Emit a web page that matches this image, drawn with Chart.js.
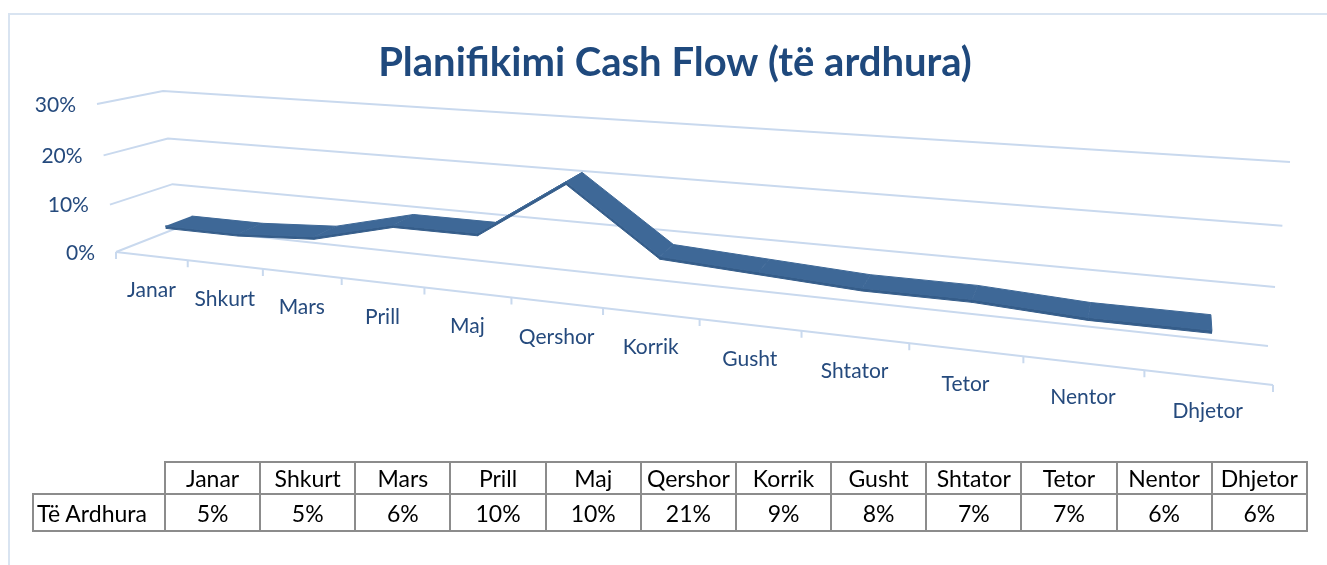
<!DOCTYPE html>
<html lang="sq">
<head>
<meta charset="utf-8">
<title>Planifikimi Cash Flow</title>
<script src="https://cdn.jsdelivr.net/npm/chart.js@4.4.1/dist/chart.umd.min.js"></script>
<style>
  body { margin: 0; background: #fff; overflow: hidden; }
  #wrap { position: relative; width: 1327px; height: 565px; }
  #frame { position: absolute; left: 8px; top: 13px; width: 1400px; height: 600px; border: 2px solid #d9e4f1; }
  #chart { position: absolute; left: 0; top: 0; }
  #dataTable {
    position: absolute; left: 32px; top: 461px; width: 1276px;
    border-collapse: collapse; table-layout: fixed;
    font-family: Lato, sans-serif; font-size: 23px; color: #000;
  }
  #dataTable td { border: 2px solid #8c8c8c; text-align: center; padding: 0; white-space: nowrap; }
  #dataTable tr.head td { height: 30px; }
  #dataTable tr.vals td { height: 35px; }
  #dataTable td.corner { border-top: none; border-left: none; }
  #dataTable td.name { text-align: left; padding-left: 3px; }
</style>
</head>
<body>
<div id="wrap">
  <div id="frame"></div>
  <canvas id="chart" width="1327" height="565"></canvas>
  <table id="dataTable"></table>
</div>
<script>
// te dhenat
const title = "Planifikimi Cash Flow (të ardhura)";
const seriesName = "Të Ardhura";
const months = ["Janar", "Shkurt", "Mars", "Prill", "Maj", "Qershor", "Korrik", "Gusht", "Shtator", "Tetor", "Nentor", "Dhjetor"];
const revenue = [5, 5, 6, 10, 10, 21, 9, 8, 7, 7, 6, 6]; // %
const yTicks = [0, 10, 20, 30];
const yTickLabels = ["0%", "10%", "20%", "30%"];

const titleColor = "#1f497d";
const axisColor = "#254a7d";
const gridColor = "#c9d9ee";
const lineColor = "#3e6897";
const lineSide = "#355d8a";

// pamja 3D: kendet e kutise ne ekran (para = d 0, prapa = d 1)
const box = {
    frontBottom: [[116, 252], [1273, 385]],
    frontTop: [[97, 104], [1301, 186]],
    backBottom: [[177, 228], [1268, 346]],
    backTop: [[163, 91], [1290, 162]]
};
const catPersp = 0.273;
const valPersp = 0.0588;
const yMax = yTicks[yTicks.length - 1];
const ribbon = { front: 0.28, back: 0.72, thick: 0.5 };

function persp(s, p) {
    return s * (1 - p) / (1 - p * s);
}
function lerp(a, b, k) {
    return [a[0] + (b[0] - a[0]) * k, a[1] + (b[1] - a[1]) * k];
}
// t = pozicioni i kategorise, v = vlera ne %, d = thellesia
function project(t, v, d) {
    const f = persp(t / months.length, catPersp);
    const g = persp(v / yMax, valPersp);
    const bottom = lerp(lerp(box.frontBottom[0], box.frontBottom[1], f), lerp(box.backBottom[0], box.backBottom[1], f), d);
    const top = lerp(lerp(box.frontTop[0], box.frontTop[1], f), lerp(box.backTop[0], box.backTop[1], f), d);
    const p = lerp(bottom, top, g);
    return { x: p[0], y: p[1] };
}

const datasets = [];

// vijat e rrjetit
yTicks.forEach(v => {
    datasets.push({
        data: [project(0, v, 0), project(0, v, 1), project(months.length, v, 1)],
        borderColor: gridColor,
        borderWidth: 2,
        order: 2
    });
});
datasets.push({
    data: [project(0, 0, 0), project(months.length, 0, 0)],
    borderColor: gridColor,
    borderWidth: 2,
    order: 2
});
const tickData = [];
for (let t = 0; t <= months.length; t++) {
    const p = project(t, 0, 0);
    tickData.push(p, { x: p.x, y: p.y + 7 }, { x: p.x, y: null });
}
datasets.push({
    data: tickData,
    borderColor: gridColor,
    borderWidth: 2,
    order: 2
});

// shiriti i te ardhurave: faqja e perparme + siperfaqja
for (let i = 0; i < revenue.length - 1; i++) {
    const a = revenue[i], b = revenue[i + 1];
    datasets.push({
        data: [
            project(i + 0.5, a, ribbon.front),
            project(i + 1.5, b, ribbon.front),
            project(i + 1.5, b - ribbon.thick, ribbon.front),
            project(i + 0.5, a - ribbon.thick, ribbon.front)
        ],
        borderColor: lineSide,
        backgroundColor: lineSide,
        borderWidth: 1,
        fill: "shape",
        order: 1
    });
    datasets.push({
        data: [
            project(i + 0.5, a, ribbon.front),
            project(i + 1.5, b, ribbon.front),
            project(i + 1.5, b, ribbon.back),
            project(i + 0.5, a, ribbon.back)
        ],
        borderColor: lineColor,
        backgroundColor: lineColor,
        borderWidth: 1,
        fill: "shape",
        order: 0
    });
}

const labels3d = {
    id: "labels3d",
    afterDatasetsDraw(chart) {
        const { ctx, scales: { x, y } } = chart;
        ctx.save();
        ctx.fillStyle = axisColor;
        ctx.font = "21px Lato";
        ctx.textAlign = "right";
        ctx.textBaseline = "middle";
        yTicks.forEach((v, i) => {
            const p = project(0, v, 0);
            ctx.fillText(yTickLabels[i], x.getPixelForValue(p.x) - 21, y.getPixelForValue(p.y) + 1);
        });
        ctx.textAlign = "center";
        ctx.textBaseline = "alphabetic";
        months.forEach((m, i) => {
            const p = project(i + 0.5, 0, 0);
            ctx.fillText(m, x.getPixelForValue(p.x), y.getPixelForValue(p.y) + 41);
        });
        ctx.fillStyle = titleColor;
        ctx.font = "bold 40px Lato";
        ctx.fillText(title, 675, 76);
        ctx.restore();
    }
};

const chart = new Chart(document.getElementById("chart"), {
    type: "line",
    data: { datasets: datasets },
    options: {
        responsive: false,
        animation: false,
        layout: { padding: 0 },
        elements: {
            point: { radius: 0, hoverRadius: 0 },
            line: { tension: 0 }
        },
        plugins: {
            legend: { display: false },
            tooltip: { enabled: false },
            title: { display: false }
        },
        scales: {
            x: { type: "linear", min: 0, max: 1327, display: false },
            y: { type: "linear", min: 0, max: 565, reverse: true, display: false }
        }
    },
    plugins: [labels3d]
});

// tabela e te dhenave
const table = document.getElementById("dataTable");
let head = '<colgroup><col style="width:132px">' + months.map(() => "<col>").join("") + "</colgroup>";
head += '<tr class="head"><td class="corner"></td>' + months.map(m => "<td>" + m + "</td>").join("") + "</tr>";
head += '<tr class="vals"><td class="name">' + seriesName + "</td>" + revenue.map(v => "<td>" + v + "%</td>").join("") + "</tr>";
table.innerHTML = head;
</script>
</body>
</html>
